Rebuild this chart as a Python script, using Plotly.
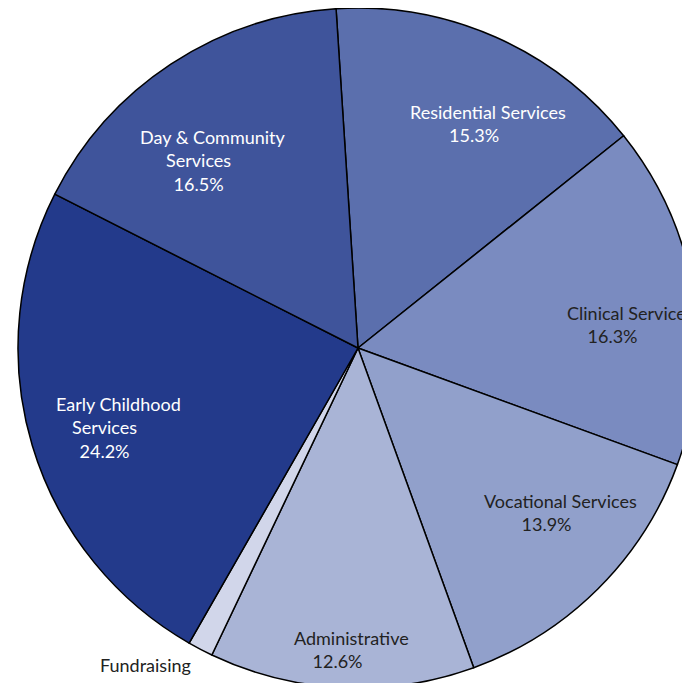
import plotly.graph_objects as go

labels = ["Residential Services", "Clinical Service", "Vocational Services", "Administrative",
          "Fundraising", "Early Childhood Services", "Day & Community Services"]
values = [15.3, 16.3, 13.9, 12.6, 1.2, 24.2, 16.5]
label_lines = [["Residential Services"], ["Clinical Service"], ["Vocational Services"],
               ["Administrative"], ["Fundraising"], ["Early Childhood", "Services"],
               ["Day & Community", "Services"]]
colors = ["#5b6fad", "#7a8bc0", "#91a0cb", "#a9b4d6", "#d1d6ea", "#233a8b", "#3f549b"]
text_colors = ["#ffffff", "#222222", "#222222", "#222222", "#222222", "#ffffff", "#ffffff"]

W, H = 700, 680
# label anchor positions in page pixels (layout only), converted to paper coords
label_px = [(488, 123.5), (626, 324), (560, 512), (351.5, 649),
            (145, 665), (118.5, 427), (213, 160)]
label_pos = [((px - 8) / W, 1 - (py - 8) / H) for px, py in label_px]

fig = go.Figure(go.Pie(
    labels=labels, values=values, textinfo="none",
    sort=False, direction="clockwise", rotation=-3.7,
    marker=dict(colors=colors, line=dict(color="black", width=1.5)),
    hoverinfo="label+percent", showlegend=False,
))

total = sum(values)
pad = "\u00a0" * 6
for i, (lines, v) in enumerate(zip(label_lines, values)):
    if labels[i] == "Fundraising":
        txt = lines[0]
    else:
        pct = f"{100 * v / total:.1f}%"
        parts = [lines[0]] + [ln + pad for ln in lines[1:]] + [pct + pad]
        txt = "<br>".join(parts)
    x, y = label_pos[i]
    fig.add_annotation(text=txt, x=x, y=y, xref="paper", yref="paper",
                       xanchor="center", yanchor="middle", align="center",
                       showarrow=False,
                       font=dict(family="Lato", size=18, color=text_colors[i]))

fig.update_layout(width=W, height=H, margin=dict(l=0, r=0, t=0, b=0),
                  paper_bgcolor="white", plot_bgcolor="white")
fig.write_html("out.html")
